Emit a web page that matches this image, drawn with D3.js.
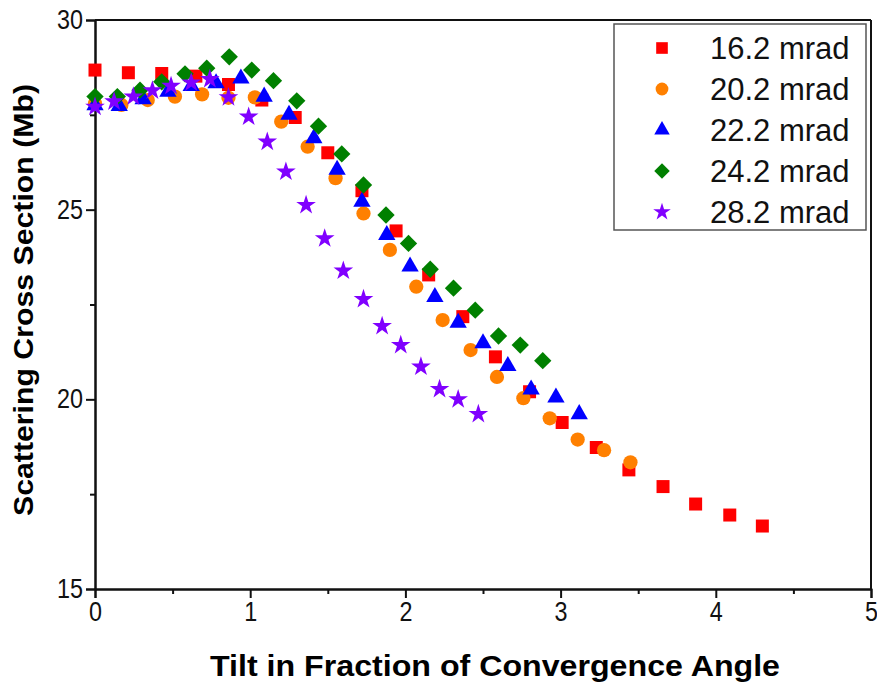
<!DOCTYPE html>
<html>
<head>
<meta charset="utf-8">
<script src="https://cdn.jsdelivr.net/npm/d3@7"></script>
<style>
  html, body { margin: 0; padding: 0; background: #fff; }
  svg { display: block; }
</style>
</head>
<body>
<script>
// Données (angle de tilt / section efficace)
const seriesNames = ["16.2 mrad", "20.2 mrad", "22.2 mrad", "24.2 mrad", "28.2 mrad"];

const x162 = [0, 0.215, 0.43, 0.65, 0.86, 1.075, 1.29, 1.5, 1.72, 1.94, 2.15, 2.37, 2.58, 2.8, 3.01, 3.23, 3.44, 3.66, 3.87, 4.09, 4.3];
const y162 = [28.68, 28.61, 28.59, 28.52, 28.3, 27.89, 27.43, 26.5, 25.5, 24.44, 23.28, 22.18, 21.12, 20.2, 19.39, 18.73, 18.14, 17.7, 17.24, 16.95, 16.66];

const x202 = [0, 0.17, 0.34, 0.515, 0.69, 0.86, 1.03, 1.2, 1.37, 1.55, 1.73, 1.9, 2.07, 2.24, 2.42, 2.59, 2.76, 2.93, 3.11, 3.28, 3.45];
const y202 = [27.8, 27.76, 27.89, 27.98, 28.04, 27.95, 27.96, 27.32, 26.66, 25.83, 24.9, 23.94, 22.97, 22.09, 21.3, 20.59, 20.03, 19.5, 18.94, 18.66, 18.34];

const x222 = [0, 0.156, 0.31, 0.47, 0.62, 0.78, 0.94, 1.09, 1.25, 1.41, 1.56, 1.72, 1.88, 2.03, 2.19, 2.34, 2.5, 2.66, 2.81, 2.97, 3.12];
const y222 = [27.75, 27.73, 27.91, 28.11, 28.26, 28.33, 28.46, 27.98, 27.5, 26.88, 26.05, 25.21, 24.33, 23.5, 22.7, 22.02, 21.48, 20.88, 20.26, 20.05, 19.61];

const x242 = [0, 0.144, 0.29, 0.43, 0.58, 0.72, 0.865, 1.01, 1.15, 1.3, 1.44, 1.59, 1.73, 1.875, 2.02, 2.16, 2.31, 2.45, 2.6, 2.74, 2.885];
const y242 = [27.98, 27.98, 28.15, 28.37, 28.58, 28.73, 29.03, 28.68, 28.4, 27.87, 27.2, 26.47, 25.65, 24.86, 24.11, 23.43, 22.93, 22.35, 21.67, 21.43, 21.02];

const x282 = [0, 0.123, 0.247, 0.37, 0.49, 0.62, 0.74, 0.86, 0.99, 1.11, 1.23, 1.36, 1.48, 1.6, 1.73, 1.85, 1.97, 2.1, 2.22, 2.34, 2.47];
const y282 = [27.71, 27.85, 27.98, 28.14, 28.26, 28.35, 28.44, 27.96, 27.45, 26.79, 26.0, 25.12, 24.24, 23.39, 22.64, 21.93, 21.43, 20.86, 20.27, 20.0, 19.61];

const xTicks = [0, 1, 2, 3, 4, 5];
const yTicks = [15, 20, 25, 30];

// Style de chaque série
const colors = ["#ff0000", "#ff8000", "#0000ff", "#008000", "#8000ff"];
const shapes = [d3.symbolSquare, d3.symbolCircle, d3.symbolTriangle, d3.symbolSquare, d3.symbolStar];
const sizes = [169, 160, 130, 150, 120];
const rotations = [0, 0, 0, 45, 0];

const allX = [x162, x202, x222, x242, x282];
const allY = [y162, y202, y222, y242, y282];

const series = seriesNames.map((name, i) => ({
    name,
    color: colors[i],
    shape: shapes[i],
    size: sizes[i],
    rot: rotations[i],
    points: allX[i].map((x, j) => ({ x, y: allY[i][j] }))
}));

const width = 877, height = 686;
const margin = { left: 95, right: 6, top: 20, bottom: 97 };

const svg = d3.select("body").append("svg")
    .attr("width", width)
    .attr("height", height);

const xScale = d3.scaleLinear().domain([0, 5]).range([margin.left, width - margin.right]);
const yScale = d3.scaleLinear().domain([15, 30]).range([height - margin.bottom, margin.top]);

const font = "'Liberation Sans', Arial, sans-serif";

// Axe X
svg.append("g")
    .attr("transform", `translate(0,${yScale(15)})`)
    .call(d3.axisBottom(xScale).tickValues(xTicks).tickFormat(d3.format("d")).tickSize(9).tickPadding(4));
svg.append("g")
    .attr("transform", `translate(0,${yScale(15)})`)
    .call(d3.axisBottom(xScale).tickValues([0.5, 1.5, 2.5, 3.5, 4.5]).tickFormat("").tickSize(5).tickSizeOuter(0));

// Axe Y
svg.append("g")
    .attr("transform", `translate(${xScale(0)},0)`)
    .call(d3.axisLeft(yScale).tickValues(yTicks).tickFormat(d3.format("d")).tickSize(9).tickPadding(3));
svg.append("g")
    .attr("transform", `translate(${xScale(0)},0)`)
    .call(d3.axisLeft(yScale).tickValues([17.5, 22.5, 27.5]).tickFormat("").tickSize(5).tickSizeOuter(0));

svg.selectAll(".domain").attr("stroke", "#111").attr("stroke-width", 2);
svg.selectAll(".tick line").attr("stroke", "#111").attr("stroke-width", 2);
// chiffres un peu condensés comme sur l'original
svg.selectAll(".tick text")
    .attr("font-family", font)
    .attr("font-size", 27)
    .attr("fill", "#111")
    .attr("textLength", function() { return this.textContent.length * 13; })
    .attr("lengthAdjust", "spacingAndGlyphs");

// Cadre haut et droite
svg.append("line")
    .attr("x1", xScale(0)).attr("x2", xScale(5))
    .attr("y1", yScale(30)).attr("y2", yScale(30))
    .attr("stroke", "#111").attr("stroke-width", 2);
svg.append("line")
    .attr("x1", xScale(5)).attr("x2", xScale(5))
    .attr("y1", yScale(30)).attr("y2", yScale(15))
    .attr("stroke", "#111").attr("stroke-width", 2);

// Titres des axes
svg.append("text")
    .attr("x", 495)
    .attr("y", 676)
    .attr("text-anchor", "middle")
    .attr("font-family", font)
    .attr("font-weight", "bold")
    .attr("font-size", 29)
    .attr("textLength", 570)
    .attr("lengthAdjust", "spacingAndGlyphs")
    .text("Tilt in Fraction of Convergence Angle");

svg.append("text")
    .attr("transform", "translate(33,300) rotate(-90)")
    .attr("text-anchor", "middle")
    .attr("font-family", font)
    .attr("font-weight", "bold")
    .attr("font-size", 28)
    .attr("textLength", 432)
    .attr("lengthAdjust", "spacingAndGlyphs")
    .text("Scattering Cross Section (Mb)");

// Points
const symbolPath = (s, scale = 1) => d3.symbol().type(s.shape).size(s.size * scale)();

series.forEach(s => {
    svg.append("g")
        .selectAll("path")
        .data(s.points)
        .join("path")
        .attr("d", symbolPath(s))
        .attr("transform", d => `translate(${xScale(d.x)},${yScale(d.y)}) rotate(${s.rot})`)
        .attr("fill", s.color);
});

// Légende
const legend = svg.append("g").attr("transform", "translate(614,24)");
legend.append("rect")
    .attr("width", 252).attr("height", 206)
    .attr("fill", "#fff")
    .attr("stroke", "#555").attr("stroke-width", 1.5);

series.forEach((s, i) => {
    const row = legend.append("g").attr("transform", `translate(0,${24 + i * 41})`);
    row.append("path")
        .attr("d", symbolPath(s, 0.8))
        .attr("transform", `translate(48,0) rotate(${s.rot})`)
        .attr("fill", s.color);
    row.append("text")
        .attr("x", 96)
        .attr("y", 11)
        .attr("font-family", font)
        .attr("font-size", 31)
        .attr("fill", "#111")
        .text(s.name);
});
</script>
</body>
</html>
